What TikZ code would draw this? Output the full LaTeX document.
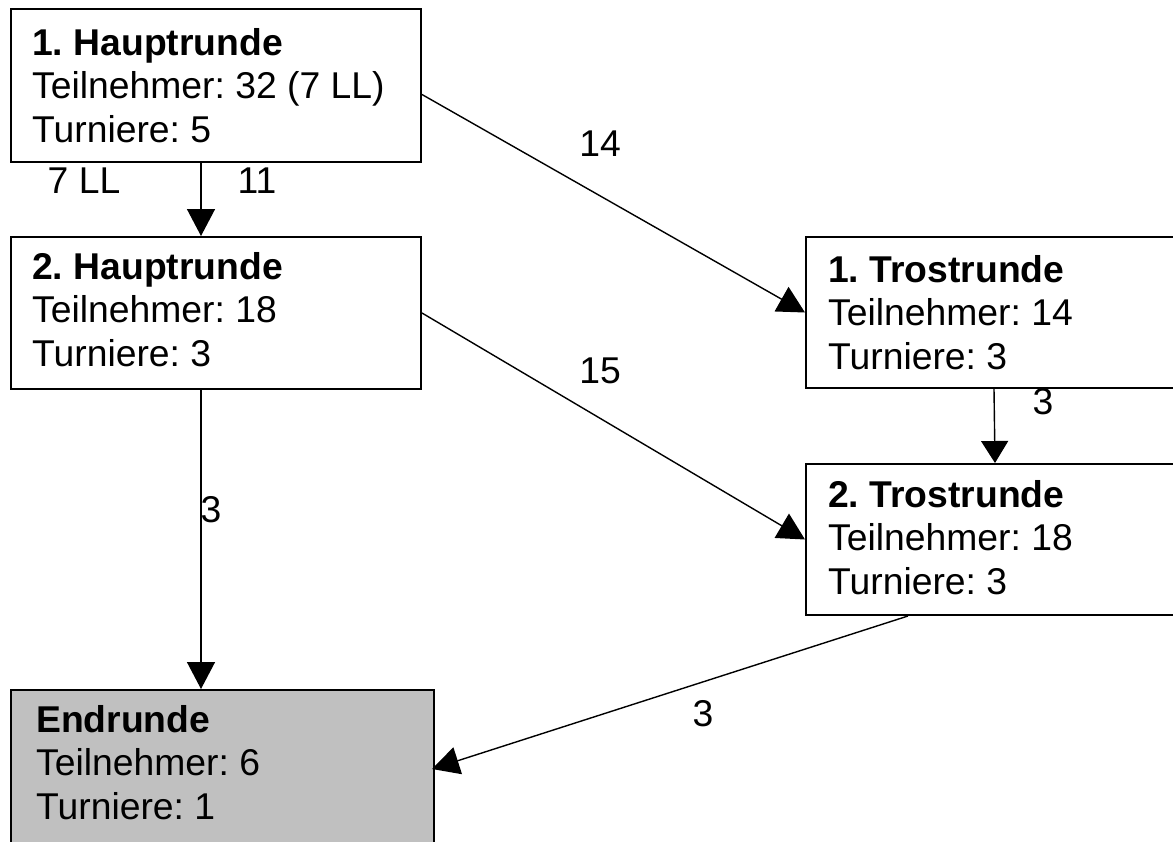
\documentclass[tikz,border=0pt]{standalone}
\usepackage{fontspec}
\setmainfont{Liberation Sans}
\usetikzlibrary{arrows.meta}
\definecolor{endgray}{HTML}{C0C0C0}
\frenchspacing
\begin{document}
\begin{tikzpicture}[x=1pt,y=-1pt,
  box/.style={draw=black,line width=2pt,fill=white,rectangle,inner sep=0pt,anchor=north west},
  boxtext/.style={inner sep=0pt,anchor=north west,align=left,font=\frenchspacing\fontsize{37.3}{43.5}\selectfont},
  lbl/.style={inner sep=0pt,anchor=center,font=\fontsize{37.3}{43.5}\selectfont},
  arr/.style={line width=1.4pt,-{Triangle[length=27pt,width=28pt]}}]
\useasboundingbox (0,0) rectangle (1173,841);
% boxes
\node[box,minimum width=410pt,minimum height=153pt] (b1) at (10,8) {};
\node[box,minimum width=410pt,minimum height=152pt] (b2) at (10,236) {};
\node[box,minimum width=380pt,minimum height=151pt] (b3) at (805,236) {};
\node[box,minimum width=380pt,minimum height=151pt] (b4) at (805,463) {};
\node[box,fill=endgray,minimum width=423pt,minimum height=165pt] (b5) at (10,689) {};
% texts
\node[boxtext] (t1) at (32,25) {\rule{0pt}{30pt}\textbf{1. Hauptrunde}\\Teilnehmer: 32 (7 LL)\\Turniere: 5};
\node[boxtext] (t2) at (32,249) {\rule{0pt}{30pt}\textbf{2. Hauptrunde}\\Teilnehmer: 18\\Turniere: 3};
\node[boxtext] (t3) at (828,252) {\rule{0pt}{30pt}\textbf{1. Trostrunde}\\Teilnehmer: 14\\Turniere: 3};
\node[boxtext] (t4) at (828,477) {\rule{0pt}{30pt}\textbf{2. Trostrunde}\\Teilnehmer: 18\\Turniere: 3};
\node[boxtext] (t5) at (36,702) {\rule{0pt}{30pt}\textbf{Endrunde}\\Teilnehmer: 6\\Turniere: 1};
% connectors
\draw[arr] ([xshift=-15pt]b1.south) -- ([xshift=-15pt]b2.north);
\draw[arr] ([yshift=-9pt]b1.east) -- (b3.west);
\draw[arr] (b2.east) -- (b4.west);
\draw[line width=1.4pt,-{Triangle[length=22pt,width=27pt]}] ([xshift=-2pt]b3.south) -- ([xshift=-1pt]b4.north);
\draw[arr] ([xshift=-15pt]b2.south) -- ([xshift=-21.5pt]b5.north);
\draw[arr] ([xshift=-88pt]b4.south) -- ([shift={(-3pt,3.5pt)}]b5.east);
% labels
\node[lbl] (l7ll) at (84,181) {7 LL};
\node[lbl] (l11) at (257,181) {11};
\node[lbl] (l14) at (600,144) {14};
\node[lbl] (l15) at (600,371) {15};
\node[lbl] (l3a) at (211,510) {3};
\node[lbl] (l3b) at (1043,402) {3};
\node[lbl] (l3c) at (703,714) {3};
\end{tikzpicture}
\end{document}
